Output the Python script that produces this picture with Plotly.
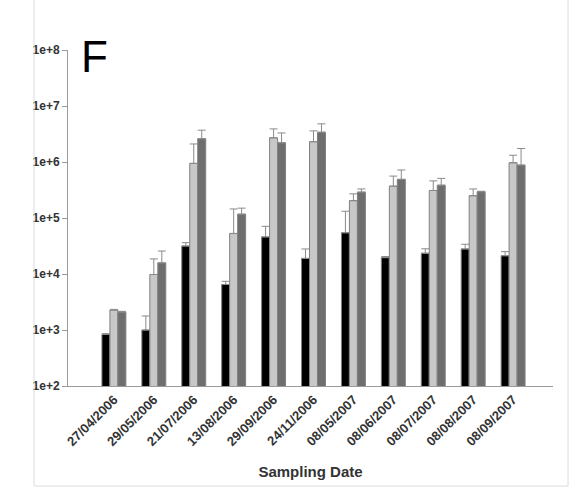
import plotly.graph_objects as go

# Sampling dates (x categories)
dates = ["27/04/2006", "29/05/2006", "21/07/2006", "13/08/2006", "29/09/2006",
         "24/11/2006", "08/05/2007", "08/06/2007", "08/07/2007", "08/08/2007",
         "08/09/2007"]

# Mean counts per series
black_vals = [835, 1000, 31600, 6500, 46000, 19000, 54500, 19600, 23500, 28000, 21200]
light_vals = [2270, 9800, 945000, 53000, 2700000, 2300000, 204000, 370000, 310000, 250000, 970000]
dark_vals = [2090, 15800, 2600000, 117000, 2200000, 3400000, 290000, 490000, 385000, 295000, 880000]

# Upper ends of the error bars
black_err_top = [860, 1780, 36300, 7400, 71000, 28000, 132000, 20500, 28200, 34000, 25100]
light_err_top = [2330, 18600, 2100000, 145000, 3900000, 3600000, 270000, 560000, 460000, 330000, 1320000]
dark_err_top = [2150, 25700, 3700000, 150000, 3300000, 4800000, 330000, 720000, 510000, 300000, 1740000]

series = [
    (black_vals, black_err_top, "#000000"),
    (light_vals, light_err_top, "#c8c8c8"),
    (dark_vals, dark_err_top, "#6e6e6e"),
]

fig = go.Figure()
x_idx = list(range(len(dates)))
for vals, tops, color in series:
    fig.add_trace(go.Bar(
        x=x_idx,
        y=vals,
        marker=dict(color=color, line=dict(color="#808080", width=1)),
        error_y=dict(
            type="data",
            symmetric=False,
            array=[t - v for t, v in zip(tops, vals)],
            arrayminus=[0] * len(vals),
            color="#8a8a8a",
            thickness=1,
            width=4,
        ),
        showlegend=False,
    ))

font_family = "Liberation Sans, Arial, sans-serif"
x_tick_font = dict(family=font_family, size=13, color="#333333", weight="bold")
y_tick_font = dict(family=font_family, size=12, color="#333333", weight="bold")

fig.update_layout(
    width=576,
    height=490,
    margin=dict(l=68, r=23, t=50, b=104),
    paper_bgcolor="white",
    plot_bgcolor="white",
    barmode="group",
    bargap=0.4,
    bargroupgap=0,
    xaxis=dict(
        range=[-1.15, 11.0],
        tickmode="array",
        tickvals=x_idx,
        ticktext=dates,
        tickangle=-45,
        tickfont=x_tick_font,
        showgrid=False,
        zeroline=False,
        showline=True,
        linecolor="#9a9a9a",
        linewidth=1,
        ticks="",
        title=dict(text="Sampling Date",
                   font=dict(family=font_family, size=15, color="#333333", weight="bold"),
                   standoff=18),
    ),
    yaxis=dict(
        type="log",
        range=[2, 8],
        tickmode="array",
        tickvals=[1e2, 1e3, 1e4, 1e5, 1e6, 1e7, 1e8],
        ticktext=["1e+2", "1e+3", "1e+4", "1e+5", "1e+6", "1e+7", "1e+8"],
        tickfont=y_tick_font,
        showgrid=False,
        zeroline=False,
        showline=True,
        linecolor="#9a9a9a",
        linewidth=1,
        ticks="outside",
        ticklen=5,
        tickcolor="#9a9a9a",
    ),
    annotations=[
        dict(text="F", xref="paper", yref="paper", x=0.022, y=1.06,
             xanchor="left", yanchor="top", showarrow=False,
             font=dict(family=font_family, size=44, color="#000000")),
    ],
    shapes=[
        dict(type="line", xref="paper", yref="paper",
             x0=(34 - 68) / 485, x1=(34 - 68) / 485, y0=(386 - 486) / 336, y1=386 / 336,
             line=dict(color="#dcdcdc", width=1)),
        dict(type="line", xref="paper", yref="paper",
             x0=(568 - 68) / 485, x1=(568 - 68) / 485, y0=(386 - 486) / 336, y1=386 / 336,
             line=dict(color="#dcdcdc", width=1)),
        dict(type="line", xref="paper", yref="paper",
             x0=(34 - 68) / 485, x1=(568 - 68) / 485, y0=(386 - 486) / 336, y1=(386 - 486) / 336,
             line=dict(color="#dcdcdc", width=1)),
    ],
)

fig.write_html("out.html")
